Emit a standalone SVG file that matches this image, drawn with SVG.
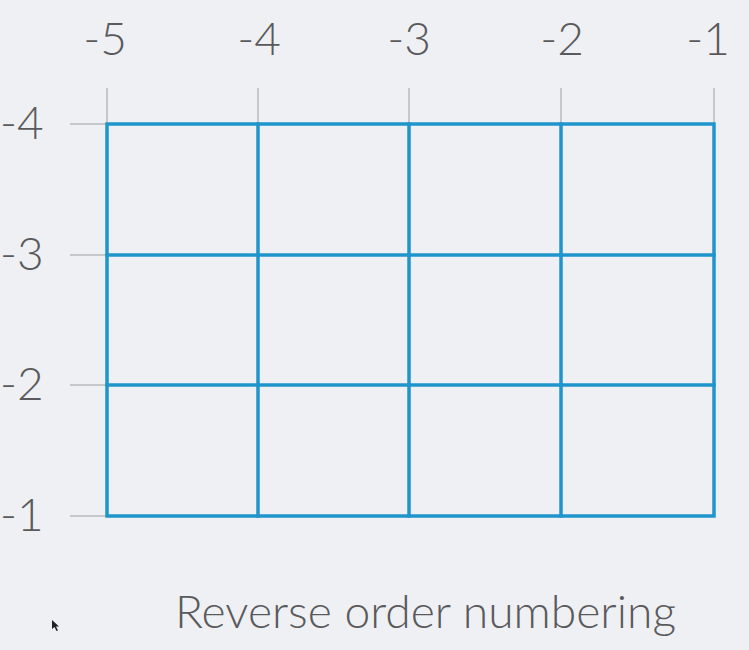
<svg xmlns="http://www.w3.org/2000/svg" width="749" height="650" viewBox="0 0 749 650">
<style>
.bg{fill:#eff0f3}
.tick{stroke:#b8babd;stroke-width:1.5;fill:none}
.grid{stroke:#1f95cc;stroke-width:3.5;fill:none;stroke-linecap:square}
.lbl{font-family:Lato,"Open Sans","Liberation Sans",sans-serif;font-weight:300;font-size:46px;fill:#5a5a5c}
.cap{font-family:Lato,"Open Sans","Liberation Sans",sans-serif;font-weight:300;font-size:46px;fill:#5a5a5c}
</style>
<rect class="bg" x="0" y="0" width="749" height="650"/>
<g id="ticks">
<line class="tick" x1="107" y1="88" x2="107" y2="124"/>
<line class="tick" x1="258" y1="88" x2="258" y2="124"/>
<line class="tick" x1="409" y1="88" x2="409" y2="124"/>
<line class="tick" x1="561" y1="88" x2="561" y2="124"/>
<line class="tick" x1="714" y1="88" x2="714" y2="124"/>
<line class="tick" x1="70" y1="124" x2="107" y2="124"/>
<line class="tick" x1="70" y1="255" x2="107" y2="255"/>
<line class="tick" x1="70" y1="385" x2="107" y2="385"/>
<line class="tick" x1="70" y1="516" x2="107" y2="516"/>
</g>
<g id="grid">
<rect class="grid" x="107" y="124" width="607" height="392"/>
<line class="grid" x1="258" y1="124" x2="258" y2="516"/>
<line class="grid" x1="409" y1="124" x2="409" y2="516"/>
<line class="grid" x1="561" y1="124" x2="561" y2="516"/>
<line class="grid" x1="107" y1="255" x2="714" y2="255"/>
<line class="grid" x1="107" y1="385" x2="714" y2="385"/>
</g>
<g id="col-labels">
<text class="lbl" x="105" y="55" text-anchor="middle">-5</text>
<text class="lbl" x="259" y="55" text-anchor="middle">-4</text>
<text class="lbl" x="409" y="55" text-anchor="middle">-3</text>
<text class="lbl" x="562" y="55" text-anchor="middle">-2</text>
<text class="lbl" x="708" y="55" text-anchor="middle">-1</text>
</g>
<g id="row-labels">
<text class="lbl" x="0" y="139">-4</text>
<text class="lbl" x="0" y="270">-3</text>
<text class="lbl" x="0" y="400">-2</text>
<text class="lbl" x="0" y="531">-1</text>
</g>
<g id="caption">
<text class="cap" x="175" y="628" textLength="501" lengthAdjust="spacingAndGlyphs">Reverse order numbering</text>
</g>
<path d="M52,620 L52,629 L54.5,627 L56.5,631 L58,630.5 L56,626.5 L59,626.5 Z" fill="#222"/>
</svg>
